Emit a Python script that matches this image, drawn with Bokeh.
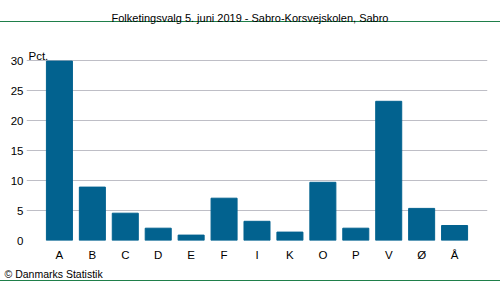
from bokeh.plotting import figure
from bokeh.models import ColumnDataSource, FixedTicker, Label, Range1d, Title
from bokeh.embed import file_html
from bokeh.resources import INLINE

parties = ["A", "B", "C", "D", "E", "F", "I", "K", "O", "P", "V", "Ø", "Å"]
values = [29.9, 8.9, 4.55, 2.05, 0.9, 7.05, 3.2, 1.4, 9.7, 2.05, 23.2, 5.35, 2.5]
y_ticks = [0, 5, 10, 15, 20, 25, 30]
title_text = "Folketingsvalg 5. juni 2019 - Sabro-Korsvejskolen, Sabro"
unit_text = "Pct."
credit_text = "© Danmarks Statistik"

FONT = "Liberation Sans"
BAR = "#02628F"
GRID = "#BEBEC6"
GREEN = "#1F7F4A"

W, H = 500, 282
LEFT, RIGHT, BOTTOM = 26, 13, 42
FRAME_H = H - BOTTOM
Y_MAX = 40  # frame reaches the top of the canvas so that the title fits inside it
X0, X1 = -1, len(parties)
px_x = (X1 - X0) / (W - LEFT - RIGHT)
px_y = Y_MAX / FRAME_H

idx = list(range(len(parties)))
src = ColumnDataSource(dict(x=idx, top=values))

lines_css = ("linear-gradient(to bottom, transparent 21px, {g} 21px, {g} 22px, transparent 22px, "
             "transparent 280px, {g} 280px, {g} 281px, transparent 281px)").format(g=GREEN)

p = figure(width=W, height=H, output_backend="svg", toolbar_location=None,
           x_range=Range1d(X0, X1), y_range=Range1d(0, Y_MAX),
           min_border_left=LEFT, min_border_right=RIGHT, min_border_top=0, min_border_bottom=BOTTOM,
           margin=(0, 0, 0, 0),
           styles={"background-color": "white", "background-image": lines_css})
p.title = None
p.outline_line_color = None
p.background_fill_color = None
p.border_fill_color = None

p.vbar(x="x", top="top", width=0.79, source=src, color=BAR)

p.xgrid.visible = False
p.ygrid.grid_line_color = GRID
p.ygrid.grid_line_width = 1
p.yaxis.ticker = FixedTicker(ticks=y_ticks)
p.xaxis.ticker = FixedTicker(ticks=idx)
p.xaxis.major_label_overrides = {i: s for i, s in enumerate(parties)}
for ax in (p.xaxis[0], p.yaxis[0]):
    ax.axis_line_color = None
    ax.major_tick_line_color = None
    ax.minor_tick_line_color = None
    ax.major_tick_out = 0
    ax.major_tick_in = 0
    ax.minor_tick_out = 0
    ax.minor_tick_in = 0
    ax.major_label_text_font = FONT
    ax.major_label_text_font_size = "11.5px"
    ax.major_label_text_color = "#000000"
p.yaxis.major_label_standoff = 3
p.xaxis.major_label_standoff = 8

# "Pct." above the top gridline
p.add_layout(Label(x=X0, y=max(y_ticks), text=unit_text, x_offset=2, y_offset=5,
                   text_baseline="alphabetic", text_font=FONT,
                   text_font_size="11.5px", text_color="#000000"))

# title, centred at x=249.5 px with its baseline at y=17.5 px
p.add_layout(Label(x=X0 + (249.5 - LEFT) * px_x, y=(FRAME_H - 17.5) * px_y, text=title_text,
                   text_align="center", text_baseline="alphabetic", text_font=FONT,
                   text_font_size="11px", text_color="#000000"))

p.add_layout(Title(text=credit_text, align="left", offset=-22, standoff=5,
                   text_font=FONT, text_font_size="10.5px", text_font_style="normal",
                   text_color="#000000"), "below")

open("out.html", "w").write(file_html(p, INLINE))
